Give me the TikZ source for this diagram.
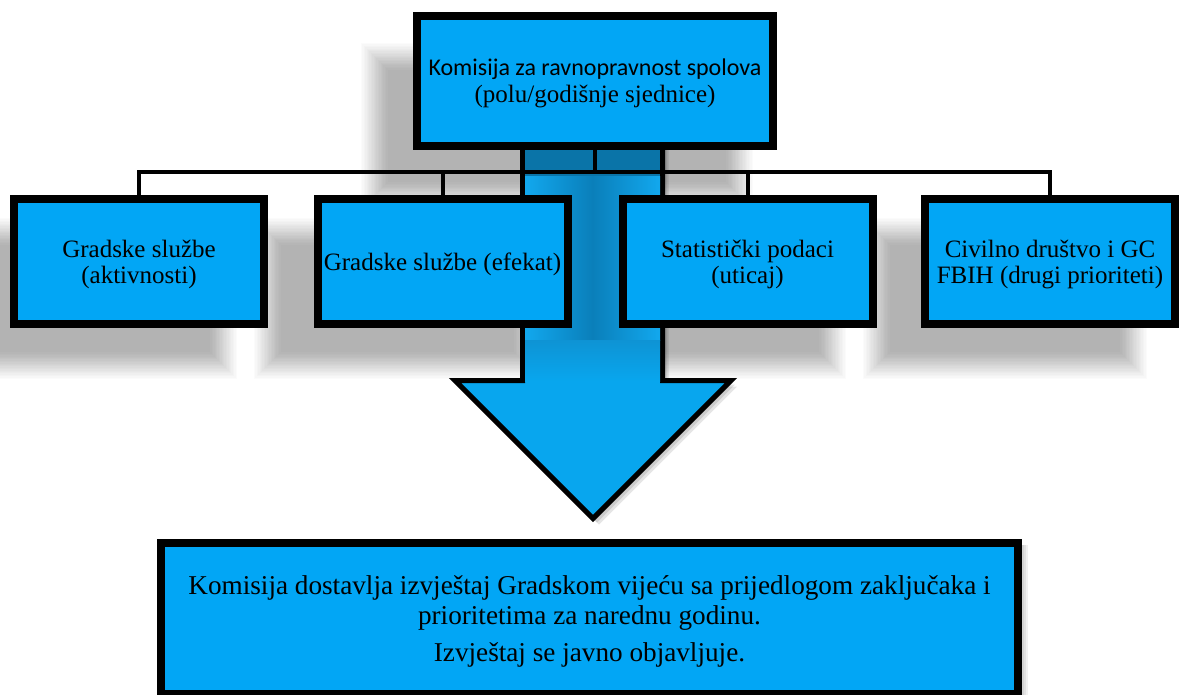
\documentclass[tikz,border=0pt]{standalone}
\usepackage{fontspec}
\setmainfont{Liberation Serif}
\newfontfamily\carlito{Carlito}
\definecolor{boxblue}{HTML}{02A6F5}
\definecolor{shaftdark}{HTML}{0A74A8}
\definecolor{shaftmid}{HTML}{0A7FBA}
\definecolor{shaftlight}{HTML}{12A8EE}
\definecolor{arrowblue}{HTML}{08A6EE}
\pgfdeclarelayer{shadowlayer}
\pgfdeclarelayer{arrowlayer}
\pgfsetlayers{shadowlayer,arrowlayer,main}
\tikzset{
  bx/.style={draw=black, line width=8pt, fill=boxblue, inner sep=0pt, align=center, text=black, text depth=0pt},
  smallbx/.style={bx, minimum width=250pt, minimum height=125pt, font=\fontsize{25}{26}\selectfont},
  conn/.style={draw=black, line width=4pt, line join=miter},
  shadowfill/.style={fill=black, opacity=0.014},
  edgeshadow/.style={fill=black, opacity=0.06},
}
% soft shadow: x1 y1 x2 y2 radius
\newcommand\softrect[5]{%
  \foreach \k in {0,...,19}{%
    \pgfmathsetmacro\sE{#5-\k*#5/10}%
    \fill[shadowfill] (#1-\sE,#2-\sE) rectangle (#3+\sE,#4+\sE);
  }}
\begin{document}
\begin{tikzpicture}[x=1pt, y=-1pt]
\useasboundingbox (0,0) rectangle (1180,694);
% boxes
\node[bx, minimum width=356pt, minimum height=130pt, font=\fontsize{25}{27}\selectfont] (top) at (595,81)
  {{\carlito\fontsize{24}{27}\selectfont Komisija za ravnopravnost spolova}\\(polu/godišnje sjednice)};
\node[smallbx] (b1) at (139,261.5) {Gradske službe\\(aktivnosti)};
\node[smallbx] (b2) at (442.5,261.5) {Gradske službe (efekat)};
\node[smallbx] (b3) at (747.5,261.5) {Statistički podaci\\(uticaj)};
\node[smallbx] (b4) at (1050,261.5) {Civilno društvo i GC\\FBIH (drugi prioriteti)};
\node[bx, minimum width=857pt, minimum height=151pt, font=\fontsize{27.2}{30}\selectfont] (bot) at (589.5,618.5)
  {Komisija dostavlja izvještaj Gradskom vijeću sa prijedlogom zaključaka i\\prioritetima za narednu godinu.\\[7pt]Izvještaj se javno objavljuje.};
% shadows
\begin{pgfonlayer}{shadowlayer}
\fill[white] (0,0) rectangle (1180,694);
\softrect{375}{57}{739}{195}{14}
\softrect{-35}{232}{223}{365}{14}
\softrect{268}{232}{527}{365}{14}
\softrect{573}{232}{832}{365}{14}
\softrect{877}{232}{1133}{365}{14}
\foreach \s in {2,4,6}{
  \fill[edgeshadow] (157+\s,545) rectangle (1022+\s,700);
}
\end{pgfonlayer}
% arrow and connectors
\begin{pgfonlayer}{arrowlayer}
\foreach \s in {2,4,6}{
  \fill[black, opacity=0.1, shift={(\s,\s)}]
    (522.5,140) -- (662.5,140) -- (662.5,380.5) -- (731,380.5) -- (593,518.5)
    -- (455,380.5) -- (522.5,380.5) -- cycle;
}
\path[draw=black, line width=5pt, line join=miter, fill=arrowblue]
  (522.5,140) -- (662.5,140) -- (662.5,380.5) -- (731,380.5) -- (593,518.5)
  -- (455,380.5) -- (522.5,380.5) -- cycle;
\fill[left color=shaftlight, right color=shaftlight, middle color=shaftmid] (525,176) rectangle (660,340);
\fill[top color=shaftmid!50!shaftlight, bottom color=arrowblue] (525,340) rectangle (660,381);
\fill[shaftdark] (525,140) rectangle (660,176);
\coordinate (bus) at (0,172);
\draw[conn] (top.south) -- (top.south |- bus);
\draw[conn] (b1.north) -- (b1.north |- bus) -- (b4.north |- bus) -- (b4.north);
\draw[conn] (b2.north) -- (b2.north |- bus);
\draw[conn] (b3.north) -- (b3.north |- bus);
\end{pgfonlayer}
\end{tikzpicture}
\end{document}
